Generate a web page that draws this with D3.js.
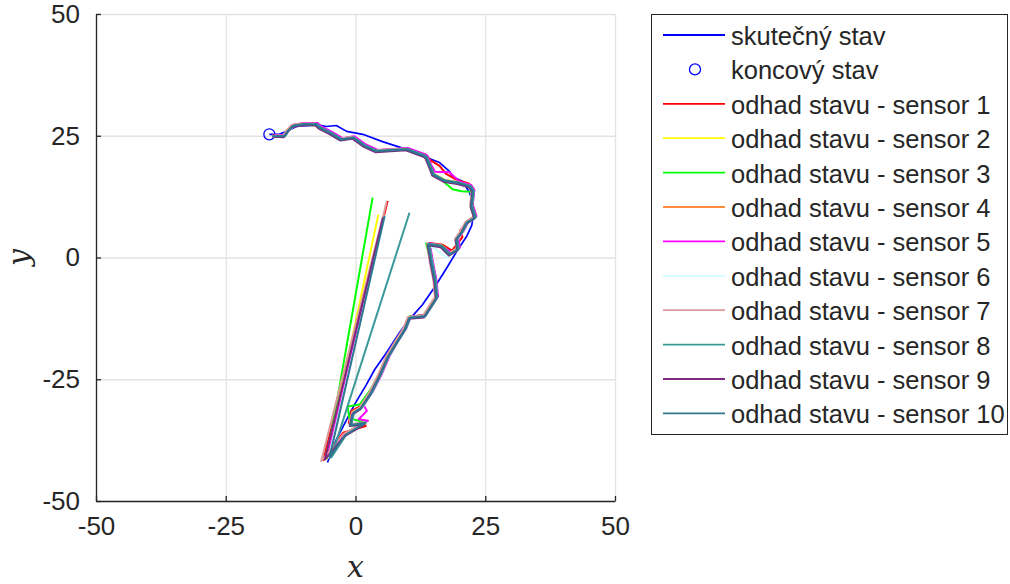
<!DOCTYPE html>
<html><head><meta charset="utf-8">
<script src="https://cdn.jsdelivr.net/npm/d3@7"></script>
<style>body{margin:0;background:#fff}svg{display:block}</style>
</head><body>
<script>
// ---- data ----
const xTicks = [-50, -25, 0, 25, 50];
const yTicks = [-50, -25, 0, 25, 50];
const xTickLabels = ["-50", "-25", "0", "25", "50"];
const yTickLabels = ["-50", "-25", "0", "25", "50"];
const legendLabels = ["skutečný stav","koncový stav","odhad stavu - sensor 1","odhad stavu - sensor 2","odhad stavu - sensor 3","odhad stavu - sensor 4","odhad stavu - sensor 5","odhad stavu - sensor 6","odhad stavu - sensor 7","odhad stavu - sensor 8","odhad stavu - sensor 9","odhad stavu - sensor 10"];
const sensorColors = ["#ff0000","#ffff00","#00ff00","#ff8c3c","#ff00ff","#ccffff","#dd9a9a","#3a9a9a","#7e2a7e","#2e7690"];

const trueState = [[-5.4,-42.1],[-3.7,-37.4],[-0.2,-30.2],[2.1,-26.1],[3.7,-23.0],[6.0,-19.5],[8.5,-15.4],[10.4,-12.7],[12.9,-9.7],[15.3,-6.0],[17.6,-2.1],[19.7,1.6],[21.4,4.3],[22.4,6.6],[22.8,9.2],[22.6,11.3],[22.0,13.3],[20.7,15.6],[18.7,16.6],[18.1,17.7],[16.2,19.5],[13.7,20.5],[9.8,22.2],[5.2,23.8],[1.4,25.3],[-1.7,25.9],[-3.7,27.1],[-5.6,26.9],[-7.5,27.3],[-11.4,26.9],[-13.3,25.9],[-14.7,25.3],[-16.6,25.3]];
const finalState = [-16.6, 25.3];

const sensor1 = [[6.2,11.6],[-6.2,-41.6],[-2.4,-36.0],[2.0,-34.6],[-1.3,-34.0],[-0.8,-31.5],[1.2,-30.4],[3.3,-27.2],[4.9,-24.0],[6.5,-20.1],[8.1,-17.2],[9.7,-14.5],[10.6,-12.1],[13.5,-11.8],[15.8,-8.0],[15.5,-4.6],[14.8,-0.8],[14.2,3.0],[16.8,2.6],[18.6,1.4],[20.6,4.2],[20.2,5.6],[21.0,6.4],[22.0,7.8],[23.2,8.6],[22.5,10.8],[22.8,13.9],[21.8,15.2],[19.4,16.0],[17.4,17.2],[16.2,18.8],[14.4,20.0],[13.8,20.9],[13.4,21.1],[9.9,22.4],[4.1,22.0],[1.8,23.1],[-0.4,24.8],[-2.7,24.4],[-4.9,25.8],[-6.8,26.8],[-7.5,27.5],[-10.1,27.5],[-12.0,27.2],[-13.0,26.1],[-13.6,25.1],[-16.0,25.0]];
const sensor2 = [[4.4,8.8],[-5.6,-41.4],[-2.2,-36.3],[1.6,-34.3],[-1.1,-34.2],[-0.6,-31.7],[1.1,-30.8],[3.2,-27.5],[4.7,-24.2],[6.3,-20.3],[8.0,-17.3],[9.6,-14.6],[10.5,-12.2],[13.4,-12.0],[15.7,-8.2],[15.4,-4.8],[14.7,-1.0],[14.1,2.8],[16.6,2.4],[18.3,0.8],[19.9,1.9],[19.6,3.9],[20.6,5.3],[21.6,7.3],[23.1,8.4],[22.4,10.6],[22.7,13.7],[22.1,14.8],[19.8,15.5],[17.3,15.9],[15.0,17.2],[14.4,18.9],[13.7,20.6],[13.4,20.9],[9.9,22.3],[4.1,21.9],[1.8,23.0],[-0.4,24.7],[-2.7,24.3],[-4.9,25.7],[-6.8,26.7],[-7.5,27.4],[-10.1,27.4],[-12.0,27.1],[-13.0,26.0],[-13.6,25.0],[-16.0,24.9]];
const sensor3 = [[3.3,12.3],[-5.5,-41.2],[-2.0,-36.2],[1.5,-33.8],[-1.2,-33.0],[-1.5,-30.6],[0.8,-30.2],[2.8,-27.3],[4.5,-24.1],[6.1,-20.2],[7.8,-17.2],[9.4,-14.5],[10.3,-12.1],[13.2,-11.9],[15.5,-8.1],[15.2,-4.7],[14.5,-0.9],[13.6,2.9],[16.4,2.5],[18.0,0.9],[19.6,1.8],[19.3,3.9],[20.3,5.3],[21.3,7.3],[22.9,8.4],[22.2,10.7],[22.5,13.5],[20.4,13.6],[18.7,14.0],[16.8,15.7],[14.8,17.2],[14.2,18.9],[13.5,20.6],[13.2,20.9],[9.7,22.3],[3.9,21.9],[1.6,23.0],[-0.6,24.7],[-2.9,24.3],[-5.1,25.7],[-7.0,26.7],[-7.7,27.4],[-10.3,27.4],[-12.2,27.1],[-13.2,26.0],[-13.8,25.0],[-16.0,24.9]];
const sensor4 = [[5.4,8.0],[-5.8,-41.3],[-2.1,-36.4],[1.9,-34.2],[-0.9,-34.3],[-0.4,-31.8],[1.1,-30.9],[3.1,-27.6],[4.7,-24.3],[6.3,-20.4],[8.0,-17.4],[9.6,-14.7],[10.5,-12.3],[13.4,-12.0],[15.7,-8.2],[15.4,-4.8],[14.7,-1.0],[14.1,2.8],[16.6,2.5],[18.4,1.0],[20.0,2.4],[19.8,4.5],[20.8,5.8],[21.7,7.4],[23.1,8.3],[22.4,10.6],[22.7,13.7],[22.1,14.7],[19.8,15.4],[17.3,15.8],[15.0,17.1],[14.4,18.8],[13.7,20.6],[13.4,20.9],[9.9,22.3],[4.1,21.9],[1.8,23.0],[-0.4,24.7],[-2.7,24.3],[-4.9,25.7],[-6.8,26.7],[-7.5,27.4],[-10.1,27.4],[-12.0,27.1],[-13.0,26.0],[-13.6,25.0],[-16.0,24.9]];
const sensor5 = [[5.5,8.4],[-5.4,-41.0],[-1.8,-36.0],[2.4,-33.5],[0.6,-33.2],[2.2,-31.5],[1.6,-30.4],[3.4,-27.4],[5.0,-24.1],[6.6,-20.2],[8.2,-17.2],[9.8,-14.5],[10.7,-12.1],[13.6,-11.8],[15.9,-8.0],[15.6,-4.6],[14.9,-0.8],[14.3,3.0],[16.5,2.3],[18.7,1.0],[20.1,2.0],[19.8,4.0],[20.8,5.4],[21.8,7.4],[23.3,8.5],[22.6,10.8],[22.9,13.9],[22.3,14.9],[20.0,15.6],[18.1,17.5],[15.3,17.6],[14.6,19.0],[13.9,20.8],[13.6,21.1],[10.1,22.5],[4.3,22.1],[2.0,23.2],[-0.2,24.9],[-2.5,24.5],[-4.7,25.9],[-6.6,26.9],[-7.3,27.6],[-9.9,27.6],[-11.8,27.3],[-12.8,26.2],[-13.4,25.2],[-15.8,25.1]];
const sensor6 = [[5.7,8.6],[-5.2,-41.1],[-1.9,-36.6],[1.7,-34.1],[-0.8,-34.4],[-0.3,-32.1],[1.2,-31.1],[3.1,-27.9],[4.7,-24.5],[6.3,-20.6],[8.0,-17.6],[9.6,-14.9],[10.5,-12.5],[13.4,-12.2],[15.7,-8.4],[15.5,-5.0],[14.8,-1.2],[14.2,2.6],[16.0,1.2],[17.5,0.0],[19.6,1.4],[19.5,3.5],[20.5,5.0],[21.5,7.0],[23.0,8.0],[22.4,10.4],[22.7,13.5],[22.1,14.5],[19.8,15.2],[17.3,15.6],[15.0,16.9],[14.4,18.6],[13.7,20.4],[13.4,20.7],[9.9,22.1],[4.1,21.7],[1.8,22.8],[-0.4,24.5],[-2.7,24.1],[-4.9,25.5],[-6.8,26.5],[-7.5,27.2],[-10.1,27.2],[-12.0,26.9],[-13.0,25.8],[-13.6,24.8],[-16.0,24.8]];
const sensor7 = [[6.0,11.4],[-6.6,-41.8],[-2.3,-36.2],[1.9,-33.8],[-1.2,-34.3],[-0.7,-31.8],[0.8,-30.8],[2.7,-27.6],[4.3,-24.2],[5.9,-20.3],[7.6,-17.3],[9.2,-14.6],[10.1,-12.2],[13.0,-11.9],[15.3,-8.1],[15.0,-4.7],[14.3,-0.9],[13.8,2.9],[16.3,2.5],[17.9,0.8],[19.5,1.8],[19.2,3.9],[20.2,5.3],[21.2,7.3],[22.8,8.4],[22.1,10.7],[22.4,13.8],[21.8,14.8],[19.5,15.5],[17.0,15.9],[14.7,17.2],[14.1,18.9],[13.4,20.7],[13.1,21.0],[9.6,22.4],[3.8,22.0],[1.5,23.1],[-0.7,24.8],[-3.0,24.4],[-5.2,25.8],[-7.1,26.8],[-7.8,27.5],[-10.4,27.5],[-12.3,27.2],[-13.3,26.1],[-13.9,25.1],[-16.1,25.0]];
const sensor8 = [[10.4,9.2],[-4.7,-41.1],[-1.8,-36.4],[2.0,-33.9],[-0.8,-34.4],[-0.3,-31.9],[1.2,-30.9],[3.2,-27.7],[4.8,-24.3],[6.4,-20.4],[8.1,-17.4],[9.7,-14.7],[10.6,-12.3],[13.5,-12.0],[15.8,-8.2],[15.5,-4.8],[14.8,-1.0],[14.2,2.8],[16.7,2.4],[18.3,0.7],[19.9,1.7],[19.6,3.8],[20.6,5.2],[21.6,7.2],[23.2,8.3],[22.5,10.6],[22.8,13.7],[22.2,14.7],[19.9,15.4],[17.4,15.8],[15.1,17.1],[14.5,18.8],[13.8,20.6],[13.5,20.9],[10.0,22.3],[4.2,21.9],[1.9,23.0],[-0.3,24.7],[-2.6,24.3],[-4.8,25.7],[-6.7,26.7],[-7.4,27.4],[-10.0,27.4],[-11.9,27.1],[-12.9,26.0],[-13.5,25.0],[-15.9,24.9]];
const sensor9 = [[5.3,8.2],[-5.9,-41.5],[-2.1,-36.7],[1.7,-34.3],[-1.1,-34.6],[-0.6,-32.2],[0.9,-31.2],[2.9,-28.0],[4.5,-24.6],[6.1,-20.7],[7.8,-17.7],[9.4,-15.0],[10.3,-12.6],[13.2,-12.3],[15.5,-8.5],[15.2,-5.1],[14.5,-1.3],[13.9,2.5],[16.4,2.1],[18.0,0.4],[19.6,1.4],[19.3,3.5],[20.3,4.9],[21.3,6.9],[22.9,8.0],[22.2,10.3],[22.5,13.4],[21.9,14.4],[19.6,15.1],[17.1,15.5],[14.8,16.8],[14.2,18.5],[13.5,20.3],[13.2,20.6],[9.7,22.0],[3.9,21.6],[1.6,22.7],[-0.6,24.4],[-2.9,24.0],[-5.1,25.4],[-7.0,26.4],[-7.7,27.1],[-10.3,27.1],[-12.2,26.8],[-13.2,25.7],[-13.8,24.7],[-16.0,24.8]];
const sensor10 = [[5.6,8.5],[-5.0,-41.0],[-2.0,-36.5],[1.8,-34.0],[-1.0,-34.5],[-0.5,-32.0],[1.0,-31.0],[3.0,-27.8],[4.6,-24.4],[6.2,-20.5],[7.9,-17.5],[9.5,-14.8],[10.4,-12.4],[13.3,-12.1],[15.6,-8.3],[15.3,-4.9],[14.6,-1.1],[14.0,2.7],[16.5,2.3],[18.1,0.6],[19.7,1.6],[19.4,3.7],[20.4,5.1],[21.4,7.1],[23.0,8.2],[22.3,10.5],[22.6,13.6],[22.0,14.6],[19.7,15.3],[17.2,15.7],[14.9,17.0],[14.3,18.7],[13.6,20.5],[13.3,20.8],[9.8,22.2],[4.0,21.8],[1.7,22.9],[-0.5,24.6],[-2.8,24.2],[-5.0,25.6],[-6.9,26.6],[-7.6,27.3],[-10.2,27.3],[-12.1,27.0],[-13.1,25.9],[-13.7,24.9],[-16.0,24.9]];
const sensors = [sensor1,sensor2,sensor3,sensor4,sensor5,sensor6,sensor7,sensor8,sensor9,sensor10];

// ---- drawing ----
const W = 1010, H = 584;
const svg = d3.select("body").append("svg").attr("width", W).attr("height", H);
const x = d3.scaleLinear().domain([-50, 50]).range([96, 615]);
const y = d3.scaleLinear().domain([-50, 50]).range([501, 14]);
const font = "'Liberation Sans', Arial, Helvetica, sans-serif";
const textColor = "#262626";

// grid
svg.append("g").selectAll("line").data(xTicks).join("line")
  .attr("x1", d => x(d) + 0.5).attr("x2", d => x(d) + 0.5)
  .attr("y1", y(-50)).attr("y2", y(50))
  .attr("stroke", "#e3e3e3").attr("stroke-width", 1.3);
svg.append("g").selectAll("line").data(yTicks).join("line")
  .attr("y1", d => y(d) + 0.5).attr("y2", d => y(d) + 0.5)
  .attr("x1", x(-50)).attr("x2", x(50))
  .attr("stroke", "#e3e3e3").attr("stroke-width", 1.3);

// axes
const xAxis = d3.axisBottom(x).tickValues(xTicks).tickFormat((d, i) => xTickLabels[i])
  .tickSizeInner(-5).tickSizeOuter(0).tickPadding(16);
const yAxis = d3.axisLeft(y).tickValues(yTicks).tickFormat((d, i) => yTickLabels[i])
  .tickSizeInner(-5).tickSizeOuter(0).tickPadding(16);
const gx = svg.append("g").attr("transform", `translate(0,${y(-50)})`).call(xAxis);
const gy = svg.append("g").attr("transform", `translate(${x(-50)},0)`).call(yAxis);
[gx, gy].forEach(g => {
  g.select(".domain").attr("stroke", textColor).attr("stroke-width", 1.3);
  g.selectAll(".tick line").attr("stroke", textColor).attr("stroke-width", 1.3);
  g.selectAll(".tick text").attr("fill", textColor).style("font-family", font).style("font-size", "26px");
});

// axis labels
svg.append("text").attr("x", x(0)).attr("y", 577).attr("text-anchor", "middle")
  .style("font-family", "'DejaVu Serif', 'Liberation Serif', serif").style("font-style", "italic")
  .style("font-size", "30px").attr("fill", textColor).text("x");
svg.append("text").attr("transform", `translate(29,${y(0)}) rotate(-90)`).attr("text-anchor", "middle")
  .style("font-family", "'DejaVu Serif', 'Liberation Serif', serif").style("font-style", "italic")
  .style("font-size", "30px").attr("fill", textColor).text("y");

// lines
const line = d3.line().x(d => x(d[0])).y(d => y(d[1]));
svg.append("path").datum(trueState).attr("d", line).attr("fill", "none")
  .attr("stroke", "#0000ff").attr("stroke-width", 1.7).attr("stroke-linejoin", "round");
svg.append("circle").attr("cx", x(finalState[0])).attr("cy", y(finalState[1])).attr("r", 5.5)
  .attr("fill", "none").attr("stroke", "#0000ff").attr("stroke-width", 1.3);
sensors.forEach((s, i) => {
  svg.append("path").datum(s).attr("d", line).attr("fill", "none")
    .attr("stroke", sensorColors[i]).attr("stroke-width", 2).attr("stroke-linejoin", "round");
});

// legend
const lg = svg.append("g");
lg.append("rect").attr("x", 651.5).attr("y", 14.5).attr("width", 356).attr("height", 420)
  .attr("fill", "#fff").attr("stroke", "#262626").attr("stroke-width", 1);
const rowY = i => 35 + i * 34.4;
const legendColors = ["#0000ff", "#0000ff", ...sensorColors];
legendLabels.forEach((lab, i) => {
  const yy = rowY(i);
  if (i === 1) {
    lg.append("circle").attr("cx", 695).attr("cy", yy).attr("r", 5.5).attr("fill", "none")
      .attr("stroke", "#0000ff").attr("stroke-width", 1.3);
  } else {
    lg.append("line").attr("x1", 663).attr("x2", 725).attr("y1", yy).attr("y2", yy)
      .attr("stroke", legendColors[i]).attr("stroke-width", 1.8);
  }
  lg.append("text").attr("x", 731).attr("y", yy + 10).style("font-family", font)
    .style("font-size", "25.5px").attr("fill", textColor).text(lab);
});
</script>
</body></html>
